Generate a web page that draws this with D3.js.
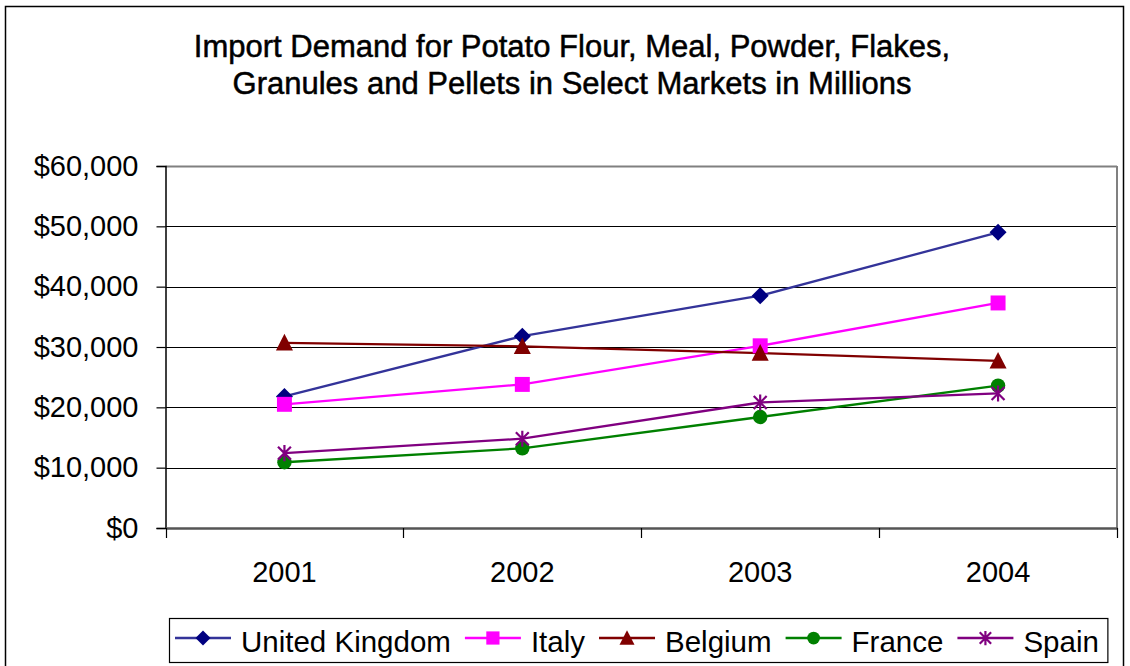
<!DOCTYPE html>
<html>
<head>
<meta charset="utf-8">
<script src="https://cdn.jsdelivr.net/npm/d3@7"></script>
<style>
  html, body { margin: 0; padding: 0; background: #fff; }
  svg { display: block; font-family: "Liberation Sans", Arial, sans-serif; }
</style>
</head>
<body>
<svg id="chart" width="1130" height="666"></svg>
<script>
// ---- data ----
const years = ["2001", "2002", "2003", "2004"];
const seriesNames = ["United Kingdom", "Italy", "Belgium", "France", "Spain"];
const unitedKingdom = [21800, 31800, 38500, 49000];
const italy = [20500, 23800, 30200, 37300];
const belgium = [30700, 30100, 29000, 27700];
const france = [10900, 13200, 18400, 23600];
const spain = [12400, 14800, 20800, 22300];
const yTicks = [0, 10000, 20000, 30000, 40000, 50000, 60000];
const titleLines = ["Import Demand for Potato Flour, Meal, Powder, Flakes,",
                    "Granules and Pellets in Select Markets in Millions"];

const seriesValues = [unitedKingdom, italy, belgium, france, spain];
const lineColors = ["#333399", "#FF00FF", "#800000", "#008000", "#800080"];
const markerColors = ["#000080", "#FF00FF", "#800000", "#008000", "#800080"];
const markerTypes = ["diamond", "square", "triangle", "circle", "star"];

const svg = d3.select("#chart");

// outer border
svg.append("rect").attr("x", 5.5).attr("y", 6.5).attr("width", 1118).attr("height", 670)
  .attr("fill", "none").attr("stroke", "#000").attr("stroke-width", 1.5);

// title
const title = svg.append("text").attr("text-anchor", "middle")
  .attr("font-size", 31).attr("fill", "#000")
  .attr("stroke", "#000").attr("stroke-width", 0.5);
titleLines.forEach((t, i) => {
  title.append("tspan").attr("x", 572).attr("y", 57 + i * 36.5).text(t);
});

// scales
const plot = { left: 165.5, right: 1117, top: 166, bottom: 528 };
const x = d3.scaleBand().domain(years).range([plot.left, plot.right]).padding(0);
const y = d3.scaleLinear().domain([0, 60000]).range([plot.bottom, plot.top]);

// gridlines
svg.append("g").selectAll("line").data(yTicks.filter(d => d > 0)).join("line")
  .attr("x1", plot.left).attr("x2", plot.right)
  .attr("y1", d => Math.round(y(d)) + 0.5).attr("y2", d => Math.round(y(d)) + 0.5)
  .attr("stroke", d => d === 60000 ? "#808080" : "#000").attr("stroke-width", d => d === 60000 ? 2 : 1);

// right plot border
svg.append("line").attr("x1", plot.right).attr("x2", plot.right)
  .attr("y1", plot.top).attr("y2", plot.bottom)
  .attr("stroke", "#808080").attr("stroke-width", 2);

// y axis
const yAxis = d3.axisLeft(y).tickValues(yTicks).tickSize(9).tickPadding(18)
  .tickFormat(d => "$" + d3.format(",")(d));
const gy = svg.append("g").attr("transform", `translate(${plot.left},0)`).call(yAxis);
gy.select(".domain").attr("stroke", "#000").attr("stroke-width", 1.5);
gy.selectAll(".tick line").attr("stroke", "#000").attr("stroke-width", 1.2);
gy.selectAll("text").attr("font-size", 29).attr("fill", "#000")
  .attr("font-family", "Liberation Sans, Arial, sans-serif");

// x axis
const xAxis = d3.axisBottom(x).tickSize(0).tickPadding(0);
const gx = svg.append("g").attr("transform", `translate(0,${plot.bottom})`).call(xAxis);
gx.select(".domain").attr("stroke", "#555").attr("stroke-width", 2.5);
gx.selectAll(".tick text").attr("font-size", 29).attr("fill", "#000")
  .attr("font-family", "Liberation Sans, Arial, sans-serif")
  .attr("dy", 0).attr("y", 54);
// category boundary ticks
const boundaries = years.map(d => x(d)).concat([x(years[years.length - 1]) + x.bandwidth()]);
svg.append("g").selectAll("line").data(boundaries).join("line")
  .attr("x1", d => Math.round(d) + 0.5).attr("x2", d => Math.round(d) + 0.5)
  .attr("y1", plot.bottom).attr("y2", plot.bottom + 10)
  .attr("stroke", "#000").attr("stroke-width", 1.2);

// marker drawing
function drawMarker(g, type, color, size) {
  const s = size;
  if (type === "diamond") {
    g.append("path").attr("d", `M0,${-s}L${s},0L0,${s}L${-s},0Z`).attr("fill", color);
  } else if (type === "square") {
    g.append("rect").attr("x", -s * 0.88).attr("y", -s * 0.88).attr("width", s * 1.76).attr("height", s * 1.76)
      .attr("fill", color);
  } else if (type === "triangle") {
    g.append("path").attr("d", `M0,${-s * 1.05}L${s},${s * 0.9}L${-s},${s * 0.9}Z`).attr("fill", color);
  } else if (type === "circle") {
    g.append("circle").attr("r", s * 0.85).attr("fill", color);
  } else if (type === "star") {
    const r = s * 0.95;
    const d = `M${-r * 0.8},${-r * 0.8}L${r * 0.8},${r * 0.8}M${-r * 0.8},${r * 0.8}L${r * 0.8},${-r * 0.8}M0,${-r}L0,${r}`;
    g.append("path").attr("d", d).attr("stroke", color).attr("stroke-width", 2.2).attr("fill", "none");
  }
}

// series lines & markers
const line = d3.line().x((d, i) => x(years[i]) + x.bandwidth() / 2).y(d => y(d));
seriesValues.forEach((vals, si) => {
  svg.append("path").datum(vals).attr("d", line)
    .attr("fill", "none").attr("stroke", lineColors[si]).attr("stroke-width", 2.3);
});
seriesValues.forEach((vals, si) => {
  vals.forEach((v, i) => {
    const g = svg.append("g")
      .attr("transform", `translate(${x(years[i]) + x.bandwidth() / 2},${y(v)})`);
    drawMarker(g, markerTypes[si], markerColors[si], 8.5);
  });
});

// legend
const legend = svg.append("g");
const legendY = 638;
let cx = 175;
seriesNames.forEach((name, si) => {
  const g = legend.append("g");
  g.append("line").attr("x1", cx).attr("x2", cx + 56).attr("y1", legendY).attr("y2", legendY)
    .attr("stroke", lineColors[si]).attr("stroke-width", 2.3);
  const mg = g.append("g").attr("transform", `translate(${cx + 28},${legendY})`);
  drawMarker(mg, markerTypes[si], markerColors[si], 7.5);
  const t = g.append("text").attr("x", cx + 66).attr("y", legendY + 14)
    .attr("font-size", 29.5).attr("fill", "#000").text(name);
  const w = t.node().getComputedTextLength();
  cx = cx + 66 + w + 14;
});
const legendRight = cx - 14 + 9;
legend.insert("rect", ":first-child").attr("x", 169.5).attr("y", 618.5)
  .attr("width", legendRight - 169.5).attr("height", 44)
  .attr("fill", "#fff").attr("stroke", "#000").attr("stroke-width", 1.2);
</script>
</body>
</html>
